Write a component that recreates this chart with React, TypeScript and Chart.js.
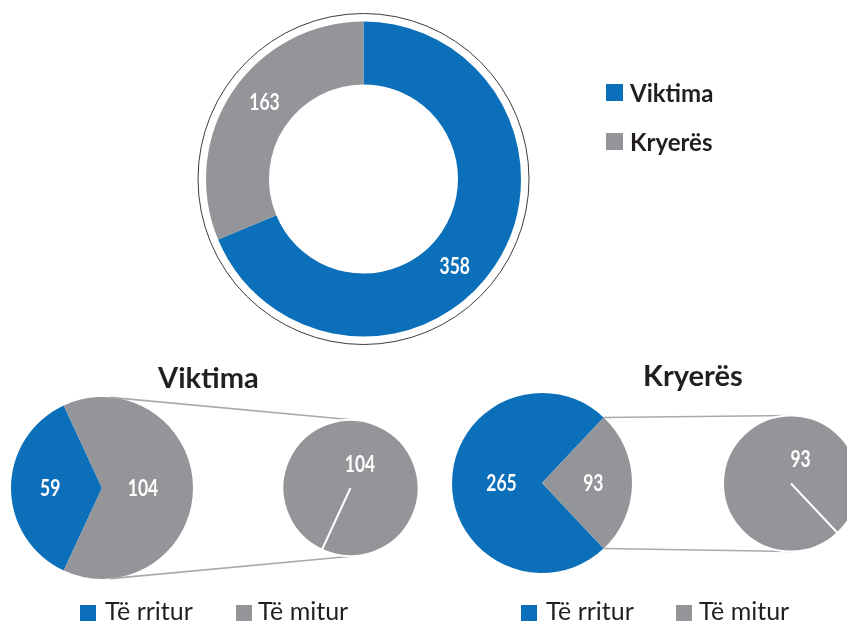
import React, { useEffect, useRef } from 'react';
import { Chart, registerables } from 'chart.js';

Chart.register(...registerables);

// ---------- data ----------
const overviewLabels = ['Viktima', 'Kryerës'];
const overviewValues = [358, 163];
const ageLabels = ['Të rritur', 'Të mitur'];
const victimValues = [59, 104];
const perpetratorValues = [265, 93];
const minorLabels = ['Të mitur'];
const victimMinorValues = [104];
const perpetratorMinorValues = [93];

// ---------- style / layout ----------
const BLUE = '#0b70b9';
const GRAY = '#939598';
const TEXT = '#231f20';
const W = 847;
const H = 622;
const CW = 900;
const LABEL_FONT = 'bold 23px Lato, "Open Sans", sans-serif';
const LABEL_SQUEEZE = 0.76;
const UI_FONT = 'Lato, "Open Sans", sans-serif';

type Geo = { cx: number; cy: number; r: number };
const GEO: Record<string, Geo> = {
  overview: { cx: 363.5, cy: 179, r: 157.5 },
  victim: { cx: 102, cy: 488, r: 91 },
  victimMinor: { cx: 350.5, cy: 488, r: 68 },
  perp: { cx: 542, cy: 483, r: 90 },
  perpMinor: { cx: 791, cy: 483.5, r: 68 },
};

function padFor(g: Geo, bw: number) {
  const half = g.r + bw / 2;
  return { left: g.cx - half, right: CW - g.cx - half, top: g.cy - half, bottom: H - g.cy - half };
}

// rotation so that the second slice is centred on the right (east)
function eastRotation(values: number[]) {
  const total = values.reduce((a, b) => a + b, 0);
  return 90 + (360 * values[1]) / total / 2;
}

const sliceLabels = {
  id: 'sliceLabels',
  afterDatasetsDraw(chart: any, _args: any, opts: any) {
    const meta = chart.getDatasetMeta(0);
    const values: number[] = chart.data.datasets[0].data;
    const maxV = Math.max(...values);
    const ctx = chart.ctx;
    meta.data.forEach((arc: any, i: number) => {
      const { x, y, startAngle, endAngle, innerRadius, outerRadius } = arc;
      const span = endAngle - startAngle;
      let px: number;
      let py: number;
      if (span >= Math.PI * 2 - 1e-6) {
        px = x + opts.fullDx * outerRadius;
        py = y + opts.fullDy * outerRadius;
      } else {
        const a = startAngle + span * (opts.angleFrac ?? 0.5);
        const rr =
          innerRadius > 0
            ? (innerRadius + outerRadius) / 2
            : outerRadius * (values[i] === maxV ? opts.bigFrac : opts.smallFrac);
        px = x + Math.cos(a) * rr;
        py = y + Math.sin(a) * rr;
      }
      ctx.save();
      ctx.font = LABEL_FONT;
      ctx.fillStyle = '#ffffff';
      ctx.textAlign = 'center';
      ctx.textBaseline = 'middle';
      ctx.translate(px, py + 1);
      ctx.scale(LABEL_SQUEEZE, 1);
      ctx.fillText(String(values[i]), 0, 0);
      ctx.restore();
    });
  },
};

const outerRing = {
  id: 'outerRing',
  afterDatasetsDraw(chart: any) {
    const arc: any = chart.getDatasetMeta(0).data[0];
    if (!arc) return;
    const ctx = chart.ctx;
    ctx.save();
    ctx.beginPath();
    ctx.arc(arc.x, arc.y, arc.outerRadius + 8, 0, Math.PI * 2);
    ctx.strokeStyle = '#3c3c3c';
    ctx.lineWidth = 1;
    ctx.stroke();
    ctx.restore();
  },
};

function connectors(main: Chart) {
  return {
    id: 'connectors',
    beforeDatasetsDraw(chart: any) {
      const g: any = main.getDatasetMeta(0).data[1];
      const s: any = chart.getDatasetMeta(0).data[0];
      if (!g || !s) return;
      const cx1 = g.x, cy1 = g.y, r1 = g.outerRadius;
      const cx2 = s.x, cy2 = s.y, r2 = s.outerRadius;
      const d = Math.hypot(cx2 - cx1, cy2 - cy1);
      const theta = Math.asin((r1 - r2) / d);
      const mid = (g.startAngle + g.endAngle) / 2;
      const half = (g.endAngle - g.startAngle) / 2;
      const lim = Math.PI / 2 - theta;
      const h = Math.min(half, lim);
      const tangent = half > lim;
      const ctx = chart.ctx;
      ctx.save();
      ctx.strokeStyle = '#a7a9ac';
      ctx.lineWidth = 1.6;
      [-1, 1].forEach((sgn) => {
        const a1 = mid + sgn * h;
        const a2 = tangent ? a1 : (sgn * Math.PI) / 2;
        ctx.beginPath();
        ctx.moveTo(cx1 + r1 * Math.cos(a1), cy1 + r1 * Math.sin(a1));
        ctx.lineTo(cx2 + r2 * Math.cos(a2), cy2 + r2 * Math.sin(a2));
        ctx.stroke();
      });
      ctx.restore();
    },
  };
}

function pieConfig(
  type: 'pie' | 'doughnut',
  labels: string[],
  values: number[],
  colors: string[],
  geo: Geo,
  o: { cutout?: string; rotation: number; bw: number; labelOpts: any; extra?: any[] }
): any {
  return {
    type,
    data: {
      labels,
      datasets: [
        {
          data: values,
          backgroundColor: colors,
          borderWidth: o.bw,
          borderColor: '#ffffff',
          hoverOffset: 0,
        },
      ],
    },
    options: {
      responsive: false,
      animation: false,
      events: [],
      cutout: o.cutout ?? 0,
      rotation: o.rotation,
      layout: { padding: padFor(geo, o.bw) },
      plugins: {
        legend: { display: false },
        tooltip: { enabled: false },
        sliceLabels: o.labelOpts,
      },
    },
    plugins: [sliceLabels, ...(o.extra ?? [])],
  };
}

const canvasStyle: React.CSSProperties = { position: 'absolute', left: 0, top: 0 };

function Square({ x, y, size, color }: { x: number; y: number; size: number; color: string }) {
  return <div style={{ position: 'absolute', left: x, top: y, width: size, height: size, background: color }} />;
}

function Text({ x, y, size, bold, children }: { x: number; y: number; size: number; bold?: boolean; children: React.ReactNode }) {
  return (
    <div
      style={{
        position: 'absolute',
        left: x,
        top: y,
        fontFamily: UI_FONT,
        fontSize: size,
        lineHeight: `${size}px`,
        fontWeight: bold ? 700 : 400,
        color: TEXT,
        whiteSpace: 'nowrap',
      }}
    >
      {children}
    </div>
  );
}

export default function App() {
  const c1 = useRef<HTMLCanvasElement>(null);
  const c2 = useRef<HTMLCanvasElement>(null);
  const c3 = useRef<HTMLCanvasElement>(null);
  const c4 = useRef<HTMLCanvasElement>(null);
  const c5 = useRef<HTMLCanvasElement>(null);

  useEffect(() => {
    const charts: Chart[] = [];
    const mainLabelOpts = { bigFrac: 0.45, smallFrac: 0.57 };
    const minorLabelOpts = { fullDx: 0.14, fullDy: -0.36 };

    charts.push(
      new Chart(
        c1.current!,
        pieConfig('doughnut', overviewLabels, overviewValues, [BLUE, GRAY], GEO.overview, {
          cutout: '60%',
          rotation: 0,
          bw: 0,
          labelOpts: { angleFrac: 0.54 },
          extra: [outerRing],
        })
      )
    );

    const rotV = eastRotation(victimValues);
    const victim = new Chart(
      c2.current!,
      pieConfig('pie', ageLabels, victimValues, [BLUE, GRAY], GEO.victim, {
        rotation: rotV,
        bw: 0,
        labelOpts: mainLabelOpts,
      })
    );
    charts.push(victim);
    charts.push(
      new Chart(
        c3.current!,
        pieConfig('pie', minorLabels, victimMinorValues, [GRAY], GEO.victimMinor, {
          rotation: rotV,
          bw: 2,
          labelOpts: minorLabelOpts,
          extra: [connectors(victim)],
        })
      )
    );

    const rotP = eastRotation(perpetratorValues);
    const perp = new Chart(
      c4.current!,
      pieConfig('pie', ageLabels, perpetratorValues, [BLUE, GRAY], GEO.perp, {
        rotation: rotP,
        bw: 0,
        labelOpts: mainLabelOpts,
      })
    );
    charts.push(perp);
    charts.push(
      new Chart(
        c5.current!,
        pieConfig('pie', minorLabels, perpetratorMinorValues, [GRAY], GEO.perpMinor, {
          rotation: rotP,
          bw: 2,
          labelOpts: minorLabelOpts,
          extra: [connectors(perp)],
        })
      )
    );

    return () => charts.forEach((c) => c.destroy());
  }, []);

  return (
    <div
      style={{
        position: 'fixed',
        left: 0,
        top: 0,
        width: W,
        height: H,
        overflow: 'hidden',
        background: '#ffffff',
      }}
    >
      <canvas ref={c1} width={CW} height={H} style={canvasStyle} />
      <canvas ref={c2} width={CW} height={H} style={canvasStyle} />
      <canvas ref={c3} width={CW} height={H} style={canvasStyle} />
      <canvas ref={c4} width={CW} height={H} style={canvasStyle} />
      <canvas ref={c5} width={CW} height={H} style={canvasStyle} />

      {/* top legend */}
      <Square x={606} y={84} size={17} color={BLUE} />
      <Text x={630} y={81} size={24} bold>{overviewLabels[0]}</Text>
      <Square x={606} y={133} size={17} color={GRAY} />
      <Text x={630} y={130} size={24} bold>{overviewLabels[1]}</Text>

      {/* titles */}
      <Text x={158} y={362} size={29} bold>Viktima</Text>
      <Text x={643} y={360} size={29} bold>Kryerës</Text>

      {/* bottom legends */}
      <Square x={80} y={605} size={16} color={BLUE} />
      <Text x={105} y={598} size={25}>{ageLabels[0]}</Text>
      <Square x={236} y={605} size={16} color={GRAY} />
      <Text x={258} y={598} size={25}>{ageLabels[1]}</Text>

      <Square x={521} y={605} size={16} color={BLUE} />
      <Text x={546} y={598} size={25}>{ageLabels[0]}</Text>
      <Square x={676} y={605} size={16} color={GRAY} />
      <Text x={699} y={598} size={25}>{ageLabels[1]}</Text>
    </div>
  );
}
